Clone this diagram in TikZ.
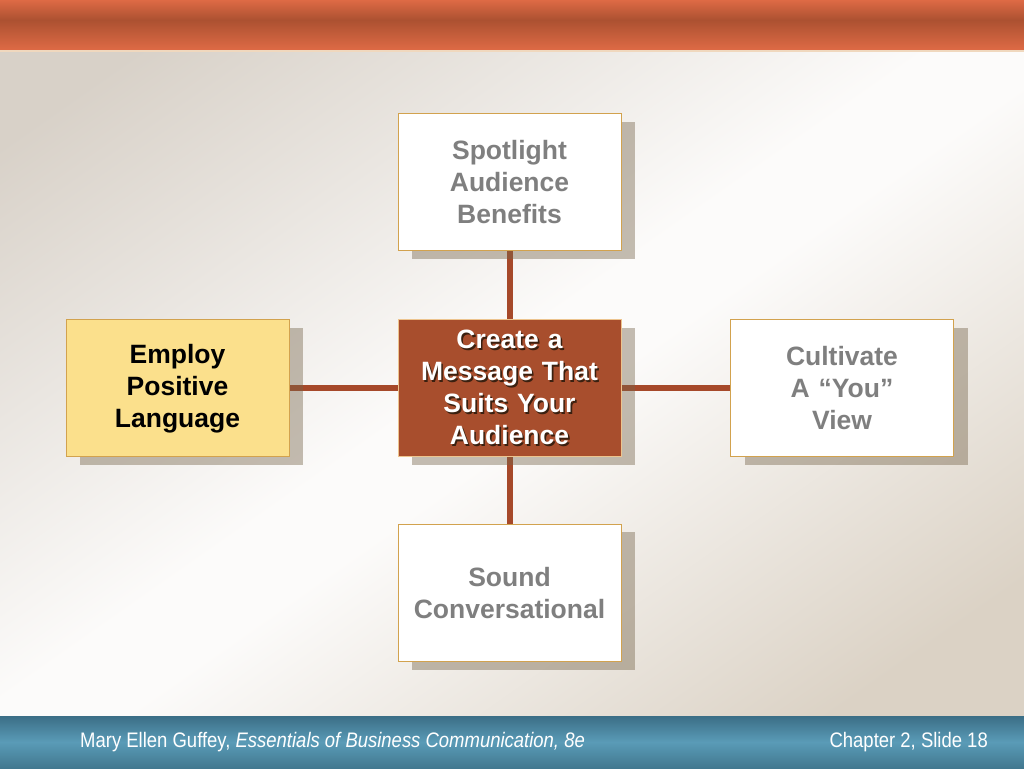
\documentclass[tikz,border=0pt]{standalone}
\usepackage{fontspec}
\setmainfont{Liberation Sans}
\newfontfamily\footfont[FakeStretch=0.88]{Liberation Sans}
\usetikzlibrary{shadows,backgrounds}
\definecolor{barTop}{HTML}{DE6A45}
\definecolor{barMid}{HTML}{AC5131}
\definecolor{footTop}{HTML}{3B6E86}
\definecolor{footMid}{HTML}{5A9BB7}
\definecolor{footBot}{HTML}{41788F}
\definecolor{bgA}{HTML}{D8D1C8}
\definecolor{bgB}{HTML}{FCFBFA}
\definecolor{bgC}{HTML}{DBD2C5}
\definecolor{linkc}{HTML}{A6492A}
\definecolor{boxline}{HTML}{D2A24E}
\definecolor{greytext}{HTML}{7F7F7F}
\definecolor{yellowfill}{HTML}{FBE08C}
\definecolor{corefill}{HTML}{A84E2D}
\definecolor{coreline}{HTML}{EDC48E}
\definecolor{shadowc}{HTML}{3A2010}
\definecolor{dropc}{HTML}{75644A}
\pgfdeclareverticalshading{bgshade}{100bp}{color(0bp)=(bgC); color(22bp)=(bgC); color(47bp)=(bgB); color(52bp)=(bgB); color(80bp)=(bgA); color(100bp)=(bgA)}
\pgfdeclareverticalshading{topbar}{100bp}{color(0bp)=(barTop); color(25bp)=(barTop); color(55bp)=(barMid); color(75bp)=(barTop); color(100bp)=(barTop)}
\pgfdeclareverticalshading{footbar}{100bp}{color(0bp)=(footBot); color(25bp)=(footBot); color(50bp)=(footMid); color(75bp)=(footTop); color(100bp)=(footTop)}
\newcommand\shtext[1]{\leavevmode\rlap{\kern1.6pt\raisebox{-1.6pt}{\color{shadowc}#1}}#1}
\pgfdeclarelayer{bg}
\pgfsetlayers{bg,background,main}
\begin{document}
\begin{tikzpicture}[x=1pt,y=1pt,
  box/.style={draw=boxline, line width=1pt, fill=white, minimum width=223pt, minimum height=137pt,
    text width=215pt, align=center, inner sep=0pt,
    font=\fontsize{26.5}{32}\selectfont\bfseries, text=greytext,
    drop shadow={shadow xshift=14pt, shadow yshift=-8pt, fill=dropc, opacity=0.42}},
  yellowbox/.style={box, fill=yellowfill, text=black},
  corebox/.style={box, fill=corefill, draw=coreline, text=white},
  link/.style={draw=linkc, line width=6pt},
  foot/.style={text=white, font=\footfont\fontsize{21}{24}\selectfont, inner sep=0pt}]
\useasboundingbox (0,0) rectangle (1024,768);
\begin{pgfonlayer}{bg}
  \shade[shading=bgshade, shading angle=35] (0,52) rectangle (1024,718);
  \shade[shading=topbar] (0,718) rectangle (1024,768);
  \fill[color={rgb,255:red,240;green,216;blue,190}] (0,715.5) rectangle (1024,718);
  \shade[shading=footbar] (0,0) rectangle (1024,52);
\end{pgfonlayer}

\node[corebox] (core) at (509.5,379.5) {\shtext{Create a}\\\shtext{Message That}\\\shtext{Suits Your}\\\shtext{Audience}};
\node[box] (top) at (509.5,585.5) {Spotlight\\Audience\\Benefits};
\node[box] (bottom) at (509.5,175) {Sound\\Conversational};
\node[yellowbox] (left) at (177.5,379.5) {Employ\\Positive\\Language};
\node[box] (right) at (842,379.5) {Cultivate\\A “You”\\View};

\begin{pgfonlayer}{background}
  \draw[link] (top) -- (core);
  \draw[link] (core) -- (bottom);
  \draw[link] (left) -- (core);
  \draw[link] (core) -- (right);
\end{pgfonlayer}

\node[foot, anchor=base west] (author) at (80,21) {Mary Ellen Guffey, \textit{Essentials of Business Communication, 8e}};
\node[foot, anchor=base east] (slide) at (988,21) {Chapter 2, Slide 18};
\end{tikzpicture}
\end{document}
